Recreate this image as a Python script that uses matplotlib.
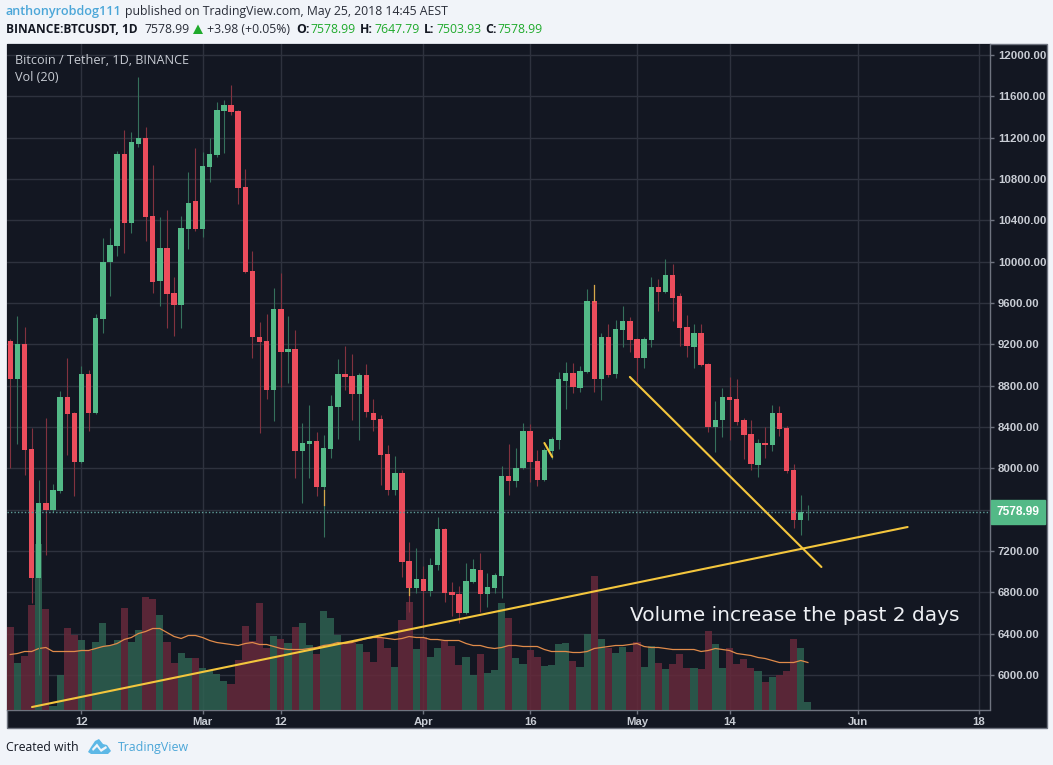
import matplotlib
matplotlib.use('Agg')
import matplotlib.pyplot as plt
from matplotlib.patches import Rectangle, Polygon

W, H = 1053, 765

# daily candles, index 0 = 2 Feb 2018
opens = [9232, 8862, 9203, 8187, 6939, 7665, 7597, 7781, 8690, 8536, 8061, 8913, 8536, 9445, 9997,
         10152, 11042, 10374, 11139, 11197, 10442, 9813, 10132, 9697, 9581, 10316, 10587, 10316, 10916, 11032,
         11458, 11516, 11458, 10723, 9910, 9271, 9232, 8758, 9542, 9126, 9155, 8168, 8236, 8265, 7820,
         8187, 8594, 8913, 8894, 8719, 8903, 8535, 8477, 8139, 7790, 7955, 7103, 6842, 6929, 6813,
         7065, 7413, 6803, 6784, 6600, 6900, 7016, 6784, 6842, 6958, 7926, 7878, 8003, 8361, 8071,
         7887, 8168, 8274, 8845, 8923, 8777, 8932, 9619, 8865, 9271, 8913, 9339, 9426, 9252, 9068,
         9242, 9755, 9707, 9871, 9668, 9368, 9174, 9310, 9010, 8400, 8468, 8690, 8671, 8468, 8332,
         8032, 8245, 8226, 8535, 8390, 7984, 7500, 7578.99]
highs = [9250, 9474, 9368, 8390, 7887, 8487, 7848, 8749, 9068, 8546, 8990, 8952, 9494, 10229, 10326,
         11071, 11274, 11255, 11787, 11303, 10935, 10432, 10500, 9852, 10442, 10868, 11100, 11061, 11197, 11545,
         11565, 11710, 11470, 10897, 10103, 9416, 9494, 9745, 9890, 9474, 9339, 8439, 8613, 8352, 8323,
         8710, 9058, 9184, 9106, 8923, 9010, 8671, 8516, 8226, 8120, 7984, 7287, 7229, 7055, 7132,
         7529, 7422, 6900, 6861, 7084, 7123, 7181, 6987, 6987, 8023, 8236, 8197, 8439, 8429, 8178,
         8200, 8303, 8932, 9029, 9019, 8990, 9735, 9774, 9310, 9397, 9435, 9571, 9465, 9260, 9271,
         9852, 9832, 10026, 9977, 9697, 9484, 9397, 9397, 9020, 8652, 8777, 8884, 8865, 8487, 8468,
         8284, 8400, 8613, 8603, 8410, 8042, 7742, 7647.79]
lows = [8003, 8236, 7936, 6697, 6000, 7161, 7580, 7762, 8129, 7732, 8050, 8361, 8525, 9310, 9668,
        10055, 10084, 10277, 11110, 10200, 9697, 9571, 9358, 9281, 9358, 10123, 10300, 10239, 10771, 11013,
        11052, 11419, 10558, 9890, 9068, 8342, 8671, 8458, 8787, 8826, 7907, 7665, 7907, 7732, 7336,
        8100, 8284, 8758, 8468, 8274, 8497, 8361, 7839, 7742, 7742, 6949, 6610, 6794, 6455, 6765,
        7016, 6707, 6571, 6503, 6590, 6890, 6610, 6658, 6794, 6745, 7742, 7820, 7990, 7868, 7829,
        7880, 8090, 8187, 8574, 8729, 8739, 8920, 8739, 8661, 8884, 8874, 9174, 9126, 8836, 8971,
        9174, 9523, 9700, 9426, 9184, 9077, 8971, 8990, 8352, 8158, 8303, 8274, 8419, 8090, 7984,
        7916, 8100, 8168, 8313, 7955, 7423, 7350, 7503.93]
closes = [8862, 9203, 8175, 6939, 7665, 7597, 7790, 8690, 8526, 8061, 8913, 8536, 9455, 9997, 10161,
          11042, 10374, 11158, 11197, 10432, 9803, 10132, 9687, 9581, 10326, 10568, 10316, 10926, 11042, 11468,
          11516, 11448, 10713, 9900, 9271, 9223, 8758, 9542, 9126, 9155, 8168, 8245, 8265, 7820, 8197,
          8603, 8913, 8884, 8719, 8903, 8545, 8468, 8129, 7790, 7955, 7094, 6842, 6929, 6813, 7065,
          7413, 6794, 6774, 6600, 6910, 7026, 6784, 6852, 6968, 7926, 7878, 8003, 8361, 8061, 7887,
          8178, 8284, 8865, 8923, 8787, 8942, 9619, 8865, 9271, 8903, 9348, 9426, 9242, 9068, 9252,
          9755, 9707, 9871, 9648, 9358, 9184, 9310, 9000, 8400, 8468, 8690, 8661, 8448, 8323, 8042,
          8245, 8226, 8535, 8381, 7974, 7500, 7578, 7578.99]

volumes = [83, 47, 54, 105, 166, 101, 4, 35, 82, 75, 70, 59, 68, 87, 65,
           70, 102, 68, 80, 113, 111, 95, 68, 47, 57, 52, 52, 42, 39, 36,
           29, 26, 50, 84, 69, 107, 62, 74, 71, 67, 83, 87, 65, 56, 99,
           92, 75, 67, 67, 66, 58, 48, 72, 62, 43, 90, 108, 61, 73, 53,
           62, 69, 64, 45, 53, 35, 56, 37, 40, 107, 92, 52, 46, 60, 53,
           44, 45, 66, 67, 49, 43, 76, 134, 71, 62, 57, 63, 58, 68, 43,
           64, 47, 41, 46, 56, 42, 42, 41, 79, 66, 42, 62, 46, 51, 42,
           39, 28, 33, 35, 39, 71, 62, 8]
vol_ma = [55, 56, 58, 58, 61, 62, 58, 58, 58, 58, 59, 59, 61, 63, 64,
          66, 70, 72, 76, 78, 81, 81, 77, 73, 71, 74, 74, 72, 69, 67,
          66, 65, 64, 66, 67, 65, 65, 63, 61, 60, 60, 60, 61, 62, 64,
          65, 67, 66, 67, 69, 71, 72, 72, 71, 70, 71, 73, 72, 72, 70,
          70, 69, 69, 69, 66, 64, 64, 62, 61, 62, 64, 64, 63, 63, 63,
          60, 58, 58, 58, 57, 57, 58, 61, 62, 63, 64, 64, 65, 66, 63,
          62, 62, 61, 60, 60, 60, 60, 58, 59, 61, 60, 59, 56, 55, 54,
          52, 51, 49, 47, 47, 47, 49, 47]

# drawn lines, (day index, price)
trend_up = ([3.05, 126.0], [5690, 7432])
trend_down = ([87.0, 113.9], [8884, 7045])
trend_short = ([75.0, 76.1], [8245, 8110])
# short yellow strokes the author left over some wicks
wick_strokes = [([44, 44], [7790, 7645]), ([56, 56], [6842, 6774]), ([82, 82], [9774, 9619])]

last_price = 7578.99
price_ticks = list(range(6000, 12400, 400))
date_ticks = [10, 27, 38, 58, 73, 88, 101, 119, 136]
date_labels = ['12', 'Mar', '12', 'Apr', '16', 'May', '14', 'Jun', '18']

BG = '#131722'
GRID = '#2e323e'
BORDER = '#6f7480'
GREEN = '#53b987'
RED = '#eb4d5c'
PAGE = '#f1f4f9'
TXT = '#c8ccd4'
SANS = 'Liberation Sans'
HEAD = 'Open Sans'


def fx(x):
    return x / W


def fy(y):
    return 1 - y / H


fig = plt.figure(figsize=(W / 100, H / 100), dpi=100, facecolor=PAGE)

# dark panel with the price scale and the date scale
fig.patches.append(Rectangle((fx(6.5), fy(728)), (1046.5 - 6.5) / W, (728 - 43.5) / H, transform=fig.transFigure,
                             facecolor=BG, edgecolor=BORDER, linewidth=1.0, zorder=-2))

ax = fig.add_axes([fx(7), fy(709.5), (989.5 - 7) / W, (709.5 - 44) / H])
ax.set_facecolor(BG)
ax.set_xlim(-0.46, 137.5)
ax.set_ylim(5666, 12106)

# volume sits on its own scale at the bottom of the pane
ax_vol = ax.twinx()
ax_vol.set_ylim(0, 665.5)
ax_vol.set_yticks([])
ax_vol.patch.set_visible(False)
for spine in ax_vol.spines.values():
    spine.set_visible(False)
days = list(range(len(closes)))
ups = [c >= o for o, c in zip(opens, closes)]
ax_vol.bar(days, volumes, width=1.0, linewidth=0,
           color=['#2e6151' if u else '#66293b' for u in ups], alpha=0.85, zorder=2)
ax_vol.plot(days, vol_ma, color='#e08b4a', linewidth=0.9, zorder=3)

# candles go above the volume
ax_c = ax.twinx()
ax_c.set_ylim(ax.get_ylim())
ax_c.set_yticks([])
ax_c.patch.set_visible(False)
for spine in ax_c.spines.values():
    spine.set_visible(False)
ax_c.vlines(days, lows, highs, colors=['#35705b' if u else '#82323f' for u in ups], linewidth=0.8, zorder=3)
ax_c.bar(days, [abs(c - o) for o, c in zip(opens, closes)], bottom=[min(o, c) for o, c in zip(opens, closes)],
         width=0.76, color=[GREEN if u else RED for u in ups], linewidth=0, zorder=4)
ax_c.axhline(last_price, color='#5f9c98', linewidth=1.0, linestyle=(0, (1, 1.5)), zorder=5)

for stroke in wick_strokes:
    ax_c.plot(stroke[0], stroke[1], color='#d6a94a', linewidth=0.9, zorder=5)
for line in (trend_up, trend_down, trend_short):
    ax_c.plot(line[0], line[1], color='#f4c63d', linewidth=1.5, zorder=6, solid_capstyle='round')

# scales, set after twinx because it moves the ticks back to the left
ax.yaxis.tick_right()
ax.set_yticks(price_ticks)
# the 7600 label is covered by the last price box on the chart
ax.set_yticklabels(['' if p == 7600 else f'{p:.2f}' for p in price_ticks])
ax.set_xticks(date_ticks)
ax.set_xticklabels(date_labels)
ax.grid(True, color=GRID, linewidth=1.0, zorder=0)
ax.set_axisbelow(True)
ax.tick_params(axis='y', length=3, width=1, color=BORDER, labelcolor=TXT, labelsize=8.2, pad=3)
ax.tick_params(axis='x', length=3, width=1, color=BORDER, labelcolor=TXT, labelsize=8.2, pad=2.5)
for lab in ax.get_yticklabels() + ax.get_xticklabels():
    lab.set_fontfamily(SANS)
    lab.set_fontweight('bold')
for side in ('top', 'left'):
    ax.spines[side].set_visible(False)
for side in ('right', 'bottom'):
    ax.spines[side].set_color(BORDER)
    ax.spines[side].set_linewidth(1.0)

# price label on the scale
ax_c.annotate(f'{last_price:.2f}', xy=(1, last_price), xycoords=('axes fraction', 'data'), xytext=(20.5, 0),
              textcoords='offset points', ha='center', va='center', color='white', fontsize=8.6, fontweight='bold',
              family=SANS, annotation_clip=False, zorder=8,
              bbox=dict(boxstyle='square,pad=0.5', facecolor=GREEN, edgecolor=GREEN))

# header
fig.text(fx(6), fy(11.5), 'anthonyrobdog111', color='#4ba6d8', fontsize=9.1, family=HEAD, va='center', fontweight='semibold')
fig.text(fx(125), fy(11.5), 'published on TradingView.com, May 25, 2018 14:45 AEST', color='#2a2e39', fontsize=8.85,
         family=HEAD, va='center')
fig.text(fx(6), fy(29.5), 'BINANCE:BTCUSDT, 1D', color='#131722', fontsize=8.6, family=HEAD, va='center', fontweight='bold')
fig.text(fx(144), fy(29.5), '7578.99', color='#2a2e39', fontsize=8.8, family=HEAD, va='center')
fig.patches.append(Polygon([(fx(193), fy(34)), (fx(203), fy(34)), (fx(198), fy(24.5))], closed=True,
                           transform=fig.transFigure, facecolor='#1faa2c', edgecolor='none'))
fig.text(fx(207), fy(29.5), '+3.98 (+0.05%)', color='#2a2e39', fontsize=8.8, family=HEAD, va='center')
for lab_x, lab, val_x, val in [(296, 'O:', 310.5, '7578.99'), (360, 'H:', 374, '7647.79'),
                               (424, 'L:', 436, '7503.93'), (485, 'C:', 497.5, '7578.99')]:
    fig.text(fx(lab_x), fy(29.5), lab, color='#131722', fontsize=8.8, family=HEAD, va='center', fontweight='bold')
    fig.text(fx(val_x), fy(29.5), val, color='#1faa2c', fontsize=8.8, family=HEAD, va='center')

# legend in the pane
fig.text(fx(15), fy(60.5), 'Bitcoin / Tether, 1D, BINANCE', color=TXT, fontsize=9.1, family=HEAD, va='center')
fig.text(fx(15), fy(77.5), 'Vol (20)', color=TXT, fontsize=9.1, family=HEAD, va='center')

fig.text(fx(630), fy(615.5), 'Volume increase the past 2 days', color='#eef0f4', fontsize=14.5, family='DejaVu Sans',
         va='center')

# footer
fig.text(fx(6), fy(747.5), 'Created with', color='#131722', fontsize=8.8, family=HEAD, va='center')
fig.text(fx(118), fy(747.5), 'TradingView', color='#4ba6d8', fontsize=8.9, family=HEAD, va='center')
logo_cloud = [(88, 752), (91, 747), (95, 741), (99, 739), (103, 744), (107, 745), (111, 751), (108, 754), (91, 754)]
logo_cut = [(92, 749), (97, 743.5), (101, 749), (106, 746), (107, 748), (101, 752), (97, 747), (93, 751)]
fig.patches.append(Polygon([(fx(x), fy(y)) for x, y in logo_cloud], closed=True, transform=fig.transFigure,
                           facecolor='#5db8e6', edgecolor='none'))
fig.patches.append(Polygon([(fx(x), fy(y)) for x, y in logo_cut], closed=True, transform=fig.transFigure,
                           facecolor=PAGE, edgecolor='none'))

fig.savefig('out.png', dpi=100, facecolor=PAGE)
